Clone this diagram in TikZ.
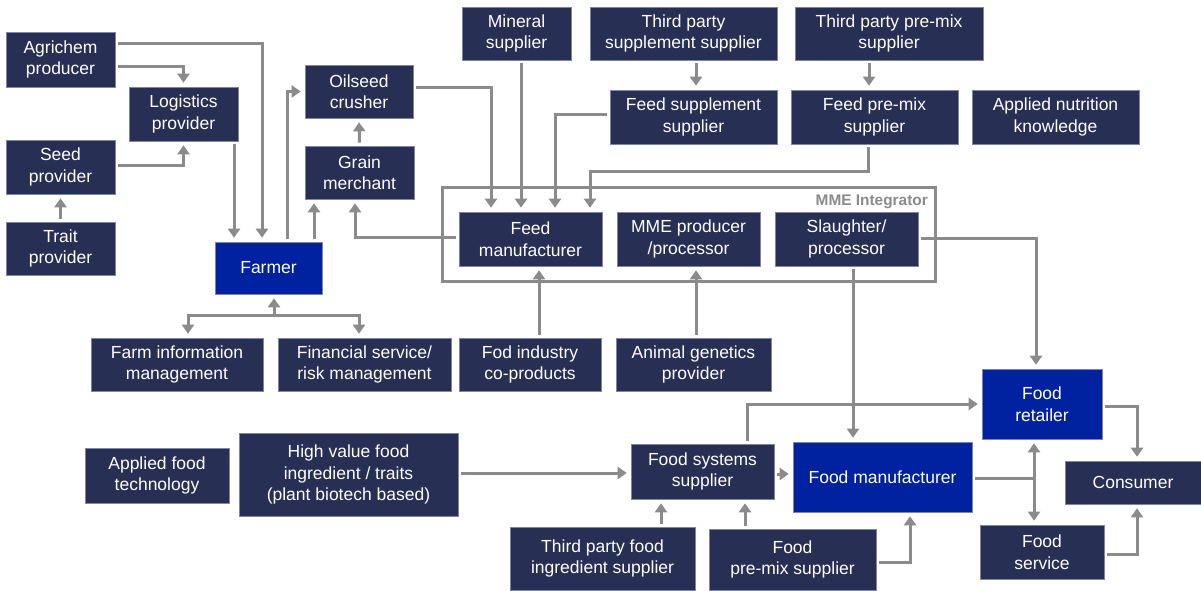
\documentclass[tikz,border=0pt]{standalone}
\usepackage{fontspec}
\setmainfont{Liberation Sans}
\usetikzlibrary{arrows.meta}
\definecolor{navy}{RGB}{40,47,84}
\definecolor{brightblue}{RGB}{0,34,160}
\definecolor{linegray}{RGB}{139,139,139}
\definecolor{edgecol}{RGB}{125,132,165}
\newcommand{\mybox}[7][navy]{\node[boxst, fill=#1, minimum width={(#5-#3)*1pt}, minimum height={(#6-#4)*1pt}] (#2) at ({(#3+#5)/2},{(#4+#6)/2}) {#7};}
\begin{document}
\begin{tikzpicture}[x=1pt,y=-1pt,
  boxst/.style={draw=edgecol, line width=0.6pt, text=white, align=center, inner sep=2pt, font=\fontsize{17.5}{21.5}\selectfont},
  arr/.style={draw=linegray, line width=3pt, -{Triangle[width=12pt,length=9pt]}, shorten >=4pt, shorten <=3pt},
  dblarr/.style={draw=linegray, line width=3pt, {Triangle[width=12pt,length=9pt]}-{Triangle[width=12pt,length=9pt]}, shorten >=4pt, shorten <=4pt},
  ln/.style={draw=linegray, line width=3pt, shorten <=3pt},
  grp/.style={draw=linegray, line width=3pt},
  grplabel/.style={text=linegray, font=\fontsize{15.4}{18}\selectfont\bfseries, inner sep=0pt, anchor=base east}]
\useasboundingbox (0,0) rectangle (1201,591);
% integrator group
\draw[grp] (442,187) rectangle (935,281);
\node[grplabel] (intlabel) at (928,205) {MME Integrator};
% boxes
\mybox{agri}{6}{32}{115}{87}{Agrichem\\producer}
\mybox{logi}{129}{87}{238}{141}{Logistics\\provider}
\mybox{seed}{6}{140}{115}{194}{Seed\\provider}
\mybox{trait}{6}{222}{115}{275}{Trait\\provider}
\mybox{oil}{305}{65}{413}{118}{Oilseed\\crusher}
\mybox{grain}{305}{146}{414}{199}{Grain\\merchant}
\mybox[brightblue]{farmer}{215}{242}{322}{294}{Farmer}
\mybox{mineral}{462}{7}{571}{60}{Mineral\\supplier}
\mybox{tpss}{590}{7}{777}{60}{Third party\\supplement supplier}
\mybox{fss}{610}{90}{777}{144}{Feed supplement\\supplier}
\mybox{tpps}{795}{7}{983}{60}{Third party pre-mix\\supplier}
\mybox{fps}{791}{90}{958}{144}{Feed pre-mix\\supplier}
\mybox{ank}{972}{90}{1139}{144}{Applied nutrition\\knowledge}
\mybox{feedm}{459}{212}{602}{266}{Feed\\manufacturer}
\mybox{mme}{617}{212}{760}{266}{MME producer\\/processor}
\mybox{slaughter}{775}{212}{918}{266}{Slaughter/\\processor}
\mybox{fim}{91}{338}{263}{391}{Farm information\\management}
\mybox{fin}{278}{338}{451}{391}{Financial service/\\risk management}
\mybox{fod}{459}{338}{601}{391}{Fod industry\\co-products}
\mybox{agp}{616}{338}{771}{391}{Animal genetics\\provider}
\mybox{aft}{85}{448}{229}{503}{Applied food\\technology}
\mybox{hvf}{239}{433}{458}{516}{High value food\\ingredient / traits\\(plant biotech based)}
\mybox{fsys}{631}{444}{774}{499}{Food systems\\supplier}
\mybox[brightblue]{fman}{793}{442}{972}{512}{Food manufacturer}
\mybox[brightblue]{fret}{982}{369}{1102}{439}{Food\\retailer}
\mybox{cons}{1065}{461}{1201}{504}{Consumer}
\mybox{fserv}{980}{525}{1104}{579}{Food\\service}
\mybox{tpfi}{510}{527}{695}{590}{Third party food\\ingredient supplier}
\mybox{fpm}{709}{529}{876}{590}{Food\\pre-mix supplier}
% connectors, left part
\draw[arr] ([yshift=15.5pt]agri.east) -| ([xshift=-6.5pt]farmer.north);
\draw[arr] ([yshift=-7.5pt]agri.east) -| (logi.north);
\draw[arr] ([yshift=2pt]seed.east) -| (logi.south);
\draw[arr] (trait.north) -- (seed.south);
\draw[arr] ([xshift=50.5pt]logi.south) -- ([xshift=50.5pt]logi.south |- farmer.north);
\draw[arr] ([xshift=18.5pt]farmer.north) |- (oil.west);
\draw[arr] ([xshift=45.5pt]farmer.north) -- ([xshift=45.5pt]farmer.north |- grain.south);
\draw[arr] (grain.north) -- (oil.south);
\draw[arr] ([yshift=2pt]feedm.west) -| ([xshift=-4.5pt]grain.south);
% farmer tree
\coordinate (hub) at (274,315);
\draw[arr, shorten <=0pt] (hub) -- ([xshift=5.5pt]farmer.south);
\draw[arr, shorten <=0pt] (hub) -| ([xshift=11pt]fim.north);
\draw[arr, shorten <=0pt] (hub) -| ([xshift=-5.5pt]fin.north);
% feed manufacturer inputs
\draw[arr] ([yshift=3.5pt]oil.east) -| ([xshift=-39.5pt]feedm.north);
\draw[arr] ([xshift=4.5pt]mineral.south) -- ([xshift=4.5pt]mineral.south |- feedm.north);
\draw[arr] ([yshift=2pt]fss.west) -| ([xshift=24.5pt]feedm.north);
\draw[arr] ([xshift=-6.5pt]fps.south) -- ++(0,27) -| ([xshift=59.5pt]feedm.north);
\draw[arr] ([xshift=12.5pt]tpss.south) -- ([xshift=2.5pt]fss.north);
\draw[arr] ([xshift=-20pt]tpps.south) -- ([xshift=-5.5pt]fps.north);
\draw[arr] ([xshift=9pt]fod.north) -- ([xshift=8.5pt]feedm.south);
\draw[arr] ([xshift=2.5pt]agp.north) -- ([xshift=7.5pt]mme.south);
% slaughter outputs
\draw[arr] ([yshift=1pt]slaughter.east) -| ([xshift=-6pt]fret.north);
\draw[arr] ([xshift=6.5pt]slaughter.south) -- ([xshift=6.5pt]slaughter.south |- fman.north);
% food chain
\draw[arr] ([yshift=1.5pt]hvf.east) -- ([yshift=1.5pt]hvf.east -| fsys.west);
\draw[arr] ([yshift=-2.5pt]fsys.east) -- ([yshift=-2.5pt]fsys.east -| fman.west);
\draw[arr] ([xshift=44.5pt]fsys.north) |- (fret.west);
\coordinate (hub2) at (1034,478);
\draw[ln] ([yshift=-1pt]fman.east) -- (hub2);
\draw[dblarr] ([xshift=-8pt]fret.south) -- ([xshift=-8pt]fserv.north);
\draw[arr] ([yshift=-2pt]fret.east) -| ([xshift=4pt]cons.north);
\draw[arr] ([yshift=-2pt]fserv.east) -| ([xshift=4pt]cons.south);
\draw[arr] ([xshift=58.5pt]tpfi.north) -- ([xshift=-41.5pt]fsys.south);
\draw[arr] ([xshift=-47.5pt]fpm.north) -- ([xshift=42.5pt]fsys.south);
\draw[arr] ([yshift=-2.5pt]fpm.east) -| ([xshift=27.5pt]fman.south);
\end{tikzpicture}
\end{document}
